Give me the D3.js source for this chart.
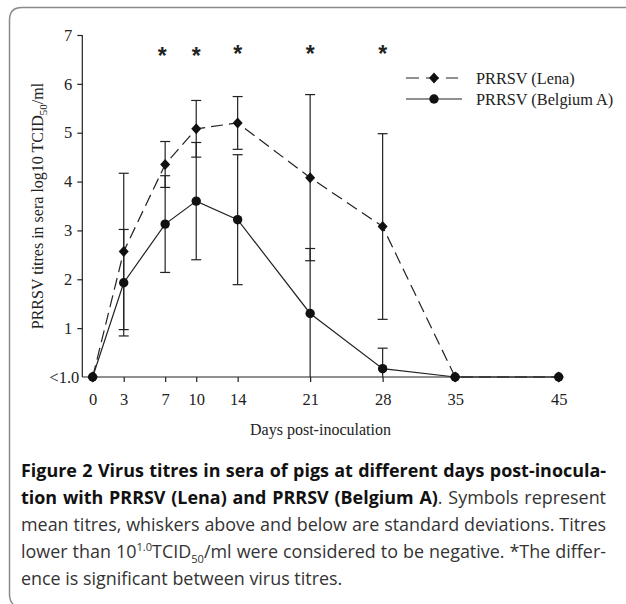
<!DOCTYPE html>
<html>
<head>
<meta charset="utf-8">
<script src="https://cdn.jsdelivr.net/npm/d3@7"></script>
<style>
  html, body { margin: 0; padding: 0; background: #fff; }
  svg { display: block; }
</style>
</head>
<body>
<svg id="chart" width="626" height="604"></svg>
<script>
// ---- data ----
const days = [0, 3, 7, 10, 14, 21, 28, 35, 45];
const lenaMean = [0, 2.57, 4.35, 5.08, 5.20, 4.08, 3.08, 0, 0];
const lenaSD   = [0, 1.60, 0.47, 0.58, 0.54, 1.70, 1.90, 0, 0];
const belgMean = [0, 1.93, 3.13, 3.60, 3.22, 1.30, 0.17, 0, 0];
const belgSD   = [0, 1.09, 0.99, 1.20, 1.33, 1.33, 0.42, 0, 0];
const starDays = [7, 10, 14, 21, 28];
const yTickValues = [0, 1, 2, 3, 4, 5, 6, 7];
const yTickLabels = ["<1.0", "1", "2", "3", "4", "5", "6", "7"];
const xTickValues = days;
const seriesNames = ["PRRSV (Lena)", "PRRSV (Belgium A)"];

const svg = d3.select("#chart");
const ink = "#222";
const serif = "'Liberation Serif','Times New Roman',serif";

// ---- frame ----
svg.append("path")
  .attr("d", "M626,7.5 H22 Q9.5,7.5 9.5,20 V594 Q9.5,601 13,604")
  .attr("fill", "none").attr("stroke", "#8a8a8a").attr("stroke-width", 1.5);

// ---- scales ----
const x = d3.scaleLinear().domain([-1, 45]).range([82.3, 558.7]);
const y = d3.scaleLinear().domain([0, 7]).range([377, 35]);

// ---- axes ----
const gx = svg.append("g").attr("transform", `translate(0,${y(0)})`)
  .call(d3.axisBottom(x).tickValues(xTickValues).tickSize(5).tickPadding(11).tickSizeOuter(0));
gx.select(".domain").attr("d", `M${x(-1)},0H${x(45) + 3}`);
const gy = svg.append("g").attr("transform", `translate(${x(-1)},0)`)
  .call(d3.axisLeft(y).tickValues(yTickValues).tickFormat((d, i) => yTickLabels[i]).tickSize(5).tickPadding(5).tickSizeOuter(0));
[gx, gy].forEach(g => {
  g.selectAll("path,line").attr("stroke", ink).attr("stroke-width", 1.2);
  g.selectAll("text").attr("fill", ink).attr("font-family", serif).attr("font-size", 16.5);
});
gy.selectAll(".tick").filter(d => d === 0).select("line").remove();
gy.selectAll(".tick").filter(d => d === 0).select("text").attr("x", -3);
gy.select(".domain").attr("d", `M0,${y(0)}V${y(7)}`);

// axis titles
svg.append("text").attr("x", (x(-1) + x(45)) / 2).attr("y", 435)
  .attr("text-anchor", "middle").attr("font-family", serif).attr("font-size", 16).attr("fill", ink)
  .text("Days post-inoculation");
const yl = svg.append("text").attr("transform", "translate(43,206) rotate(-90)")
  .attr("text-anchor", "middle").attr("font-family", serif).attr("font-size", 16).attr("fill", ink);
yl.append("tspan").text("PRRSV titres in sera log10 TCID");
yl.append("tspan").attr("font-size", 11).attr("dy", 4).text("50");
yl.append("tspan").attr("dy", -4).text("/ml");

// ---- error bars ----
function errorBars(means, sds) {
  const g = svg.append("g").attr("stroke", ink).attr("stroke-width", 1.2);
  days.forEach((d, i) => {
    if (!sds[i]) return;
    const hi = means[i] + sds[i];
    const loRaw = means[i] - sds[i];
    const lo = Math.max(0, loRaw);
    g.append("line").attr("x1", x(d)).attr("x2", x(d)).attr("y1", y(lo)).attr("y2", y(hi));
    g.append("line").attr("x1", x(d) - 5).attr("x2", x(d) + 5).attr("y1", y(hi)).attr("y2", y(hi));
    if (loRaw > 0.02)
      g.append("line").attr("x1", x(d) - 5).attr("x2", x(d) + 5).attr("y1", y(lo)).attr("y2", y(lo));
  });
}
errorBars(belgMean, belgSD);
errorBars(lenaMean, lenaSD);

// ---- lines ----
const line = d3.line().x(d => x(d[0])).y(d => y(d[1]));
svg.append("path").datum(days.map((d, i) => [d, belgMean[i]]))
  .attr("d", line).attr("fill", "none").attr("stroke", ink).attr("stroke-width", 1.2);
svg.append("path").datum(days.map((d, i) => [d, lenaMean[i]]))
  .attr("d", line).attr("fill", "none").attr("stroke", ink).attr("stroke-width", 1.2)
  .attr("stroke-dasharray", "12,6");

// ---- markers ----
const diamond = "M0,-5.5 L5,0 L0,5.5 L-5,0 Z";
svg.append("g").selectAll("circle").data(days).join("circle")
  .attr("cx", d => x(d)).attr("cy", (d, i) => y(belgMean[i])).attr("r", 4.7).attr("fill", "#111");
svg.append("g").selectAll("path").data(days).join("path")
  .attr("d", diamond).attr("transform", (d, i) => `translate(${x(d)},${y(lenaMean[i])})`).attr("fill", "#111");

// ---- significance stars ----
svg.append("g").selectAll("text").data(starDays).join("text")
  .attr("x", d => x(d) - (d === 7 ? 3 : 0)).attr("y", d => d >= 14 ? 62 : 64)
  .attr("text-anchor", "middle").attr("font-family", "'Liberation Sans',Arial,sans-serif")
  .attr("font-weight", "bold").attr("font-size", 23).attr("fill", ink).text("*");

// ---- legend ----
const lg = svg.append("g");
lg.append("line").attr("x1", 406).attr("x2", 458).attr("y1", 78).attr("y2", 78)
  .attr("stroke", ink).attr("stroke-width", 1.2).attr("stroke-dasharray", "13,7");
lg.append("path").attr("d", diamond).attr("transform", "translate(434,78)").attr("fill", "#111");
lg.append("line").attr("x1", 406).attr("x2", 462).attr("y1", 99).attr("y2", 99)
  .attr("stroke", ink).attr("stroke-width", 1.2);
lg.append("circle").attr("cx", 434).attr("cy", 99).attr("r", 4.7).attr("fill", "#111");
lg.selectAll("text.lbl").data(seriesNames).join("text").attr("class", "lbl")
  .attr("x", 476).attr("y", (d, i) => 84 + i * 21)
  .attr("font-family", serif).attr("font-size", 16.3).attr("fill", ink).text(d => d);

// ---- caption ----
const capFont = "'Open Sans','Noto Sans',sans-serif";
const capLines = [
  [{t: "Figure 2 Virus titres in sera of pigs at different days post-inocula-", b: true}],
  [{t: "tion with PRRSV (Lena) and PRRSV (Belgium A)", b: true}, {t: ". Symbols represent"}],
  [{t: "mean titres, whiskers above and below are standard deviations. Titres"}],
  [{t: "lower than 10"}, {t: "1.0", sup: true}, {t: "TCID", dy: 7}, {t: "50", sub: true}, {t: "/ml were considered to be negative. *The differ-", dy: -5}],
  [{t: "ence is significant between virus titres."}]
];
const left = 21, target = 606 - 21;
function buildCaption(F) {
  svg.selectAll("g.caption").remove();
  const g = svg.append("g").attr("class", "caption").attr("font-family", capFont).attr("font-size", F);
  return capLines.map((parts, li) => {
    const t = g.append("text").attr("x", left).attr("y", 477 + li * 27);
    parts.forEach(p => {
      const s = t.append("tspan").text(p.t)
        .attr("fill", p.b ? "#111" : "#333")
        .attr("font-weight", p.b ? "bold" : "normal");
      if (p.sup) s.attr("font-size", F * 0.62).attr("dy", -7);
      else if (p.sub) s.attr("font-size", F * 0.62).attr("dy", 5);
      else if (p.dy) s.attr("dy", p.dy);
    });
    return t;
  });
}
let F = 19;
let texts = buildCaption(F);
const maxW = d3.max(texts.slice(0, 4), t => t.node().getComputedTextLength());
F = F * (target - 2) / maxW;
texts = buildCaption(F);
texts.forEach((t, i) => {
  if (i >= 4) return;
  const w = t.node().getComputedTextLength();
  const spaces = capLines[i].map(p => p.t).join("").split(" ").length - 1;
  t.attr("word-spacing", (target - w) / spaces);
});
</script>
</body>
</html>
